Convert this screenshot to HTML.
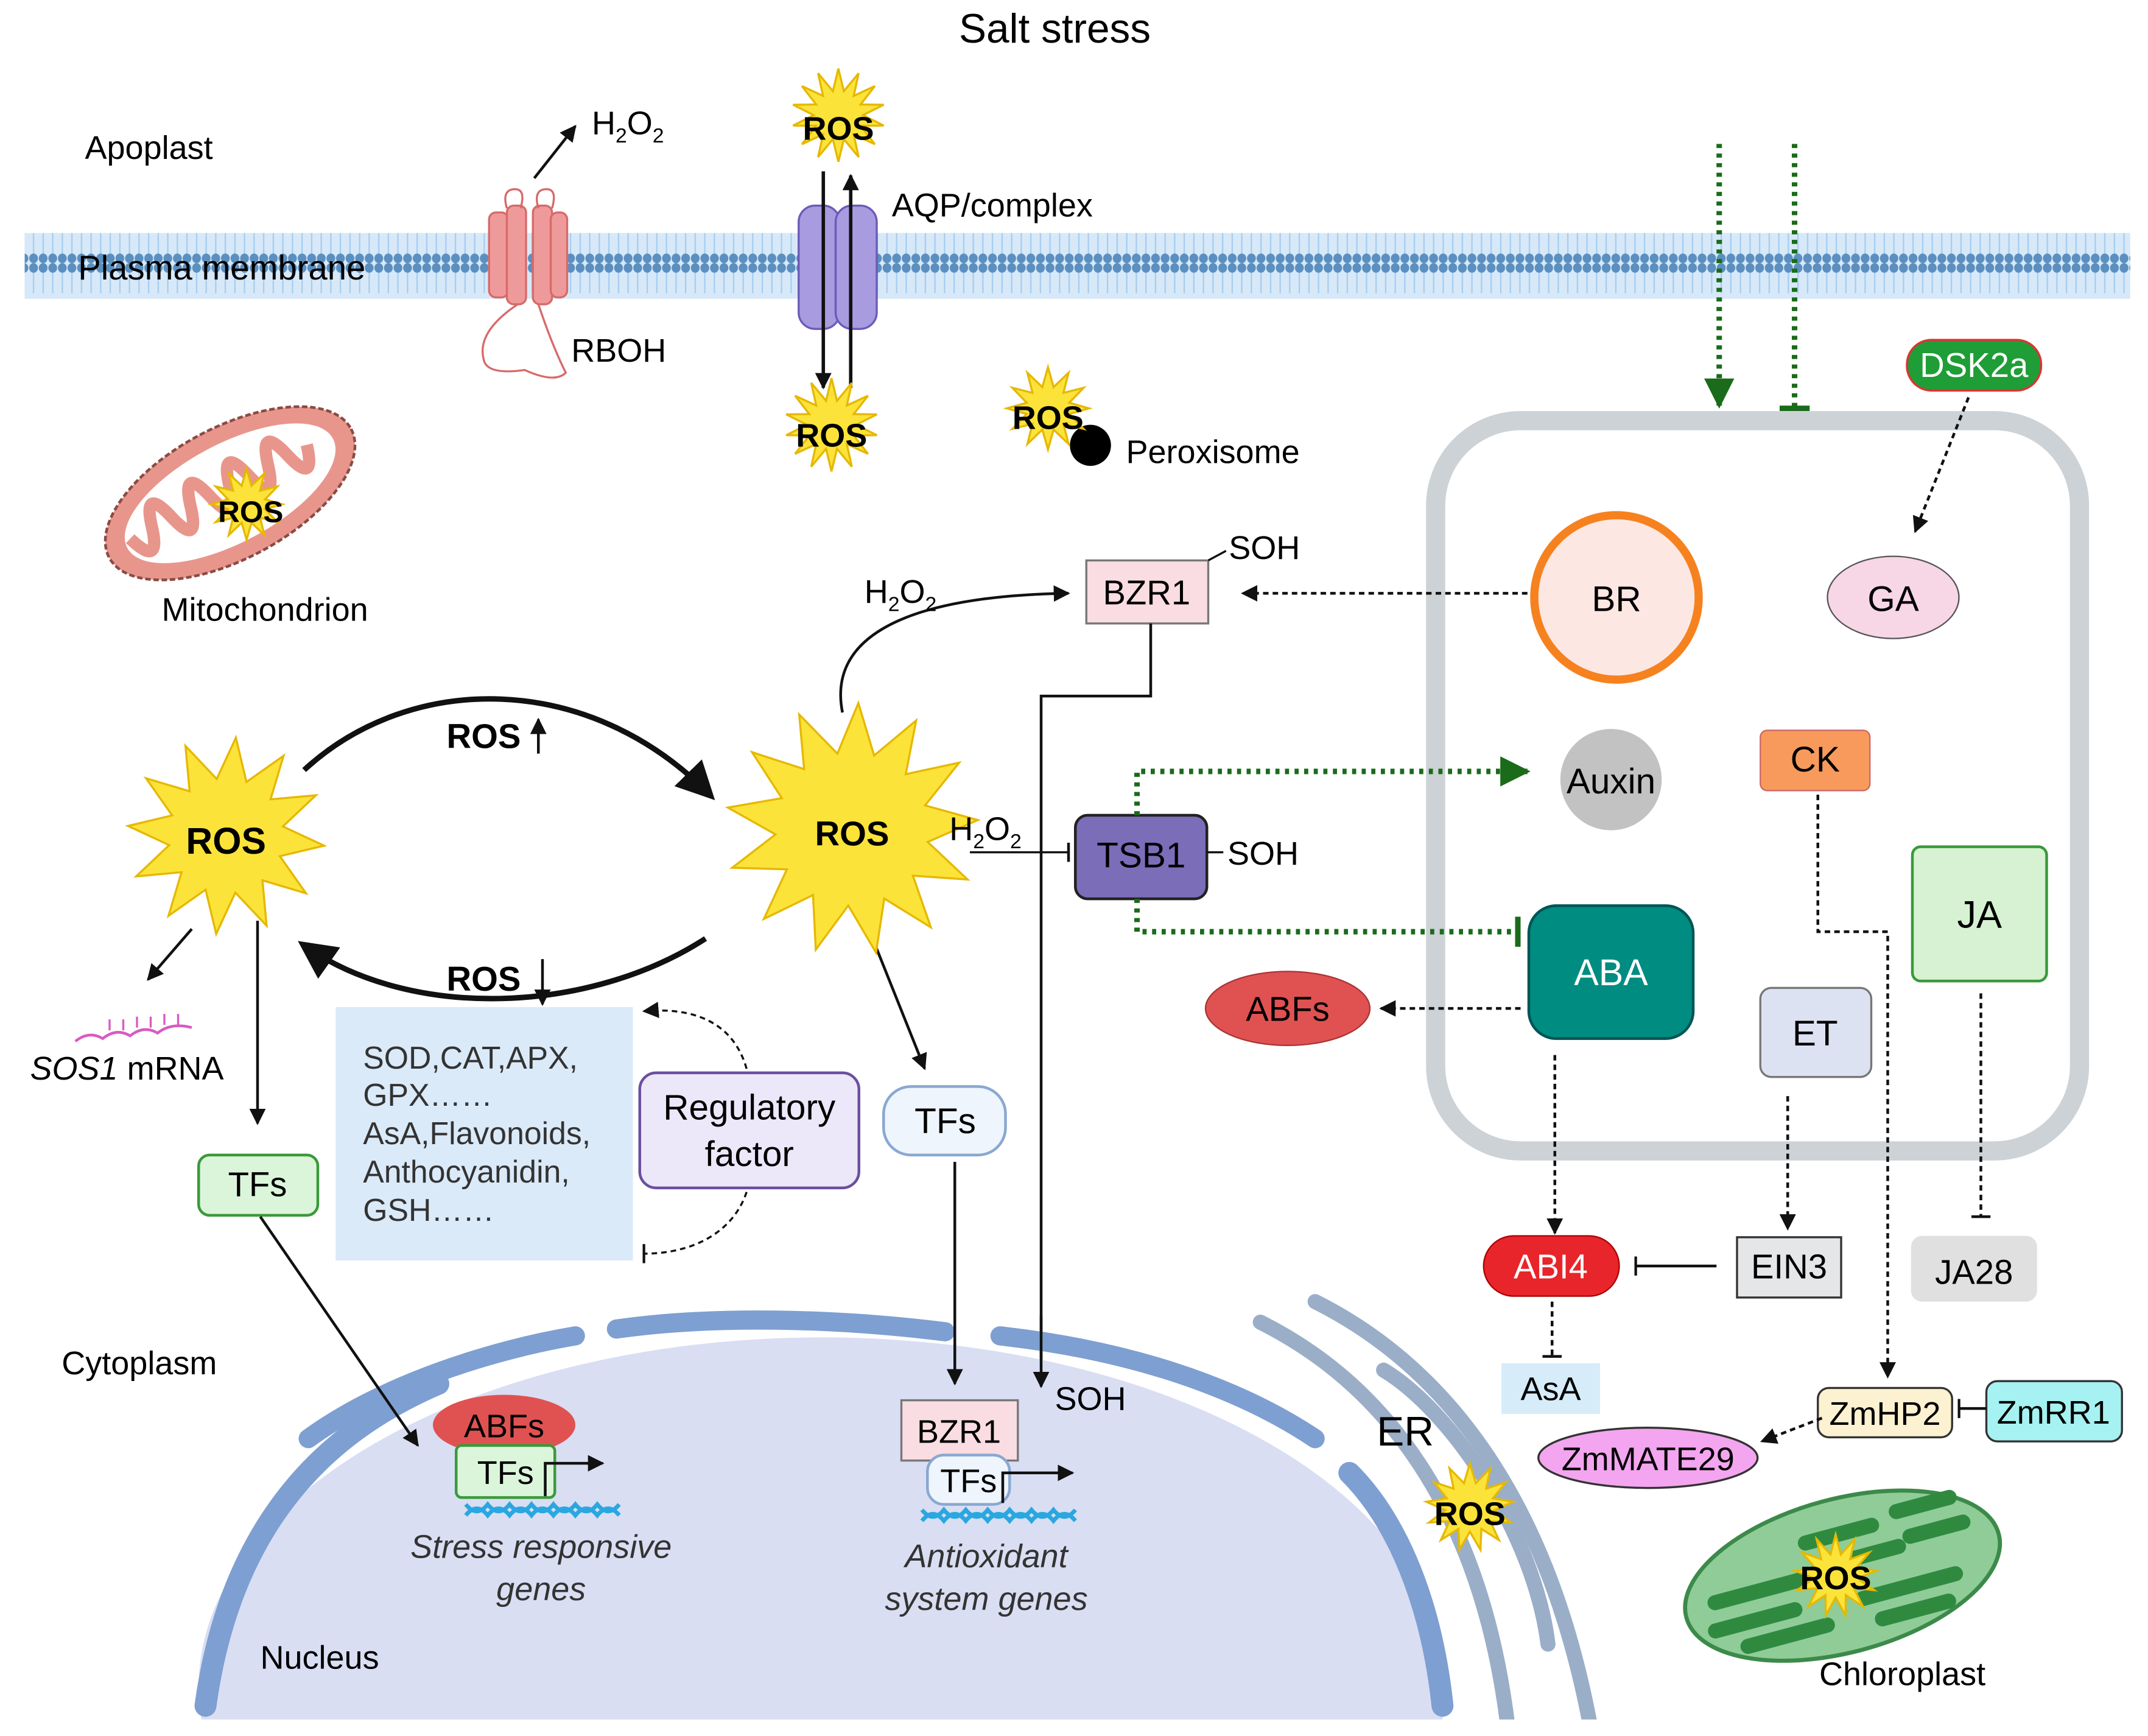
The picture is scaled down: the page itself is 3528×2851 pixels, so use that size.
<!DOCTYPE html>
<html><head><meta charset="utf-8">
<style>
html,body{margin:0;padding:0;background:#fff;width:3528px;height:2851px;overflow:hidden;}
svg{display:block;}
text{font-family:"Liberation Sans",sans-serif;}
</style></head>
<body>
<svg id="s" width="3528" height="2851" viewBox="0 0 1568 1267" xmlns="http://www.w3.org/2000/svg">
<defs>
<marker id="ab" viewBox="0 0 10 10" refX="9" refY="5" markerWidth="12" markerHeight="12" markerUnits="userSpaceOnUse" orient="auto"><path d="M0,0L10,5L0,10z" fill="#111"/></marker>
<marker id="abig" viewBox="0 0 10 10" refX="8" refY="5" markerWidth="28" markerHeight="28" markerUnits="userSpaceOnUse" orient="auto"><path d="M0,0L10,5L0,10z" fill="#111"/></marker>
<marker id="ag" viewBox="0 0 10 10" refX="9" refY="5" markerWidth="22" markerHeight="22" markerUnits="userSpaceOnUse" orient="auto"><path d="M0,0L10,5L0,10z" fill="#1a6b1a"/></marker>
<marker id="bar" viewBox="0 0 4 14" refX="3" refY="7" markerWidth="4" markerHeight="14" markerUnits="userSpaceOnUse" orient="auto"><path d="M3,0V14" stroke="#111" stroke-width="2"/></marker>
<marker id="barg" viewBox="0 0 4 22" refX="2" refY="11" markerWidth="4" markerHeight="22" markerUnits="userSpaceOnUse" orient="auto"><path d="M2,0V22" stroke="#1a6b1a" stroke-width="4"/></marker>
<pattern id="dots" width="7" height="48" patternUnits="userSpaceOnUse">
<rect width="7" height="48" fill="#d7e9f8"/>
<path d="M3.5,4V22M3.5,26V44" stroke="#a6ccef" stroke-width="1"/>
<ellipse cx="3.5" cy="3.5" rx="3.2" ry="3.5" fill="#5b8fc0"/>
<ellipse cx="3.5" cy="44.5" rx="3.2" ry="3.5" fill="#5b8fc0"/>
</pattern>
<clipPath id="nuc"><rect x="0" y="0" width="1568" height="1255"/></clipPath>
</defs>

<text x="770" y="31" font-size="30" text-anchor="middle">Salt stress</text>
<text x="62" y="116" font-size="24">Apoplast</text>
<rect x="18" y="170" width="1537" height="48" fill="url(#dots)"/>
<text x="57" y="204" font-size="25">Plasma membrane</text>

<g fill="#ef9a9a" stroke="#d76a6a" stroke-width="1.5">
<rect x="357" y="155" width="14" height="62" rx="5"/><rect x="370" y="150" width="14" height="72" rx="5"/>
<rect x="389" y="150" width="14" height="72" rx="5"/><rect x="402" y="155" width="12" height="62" rx="5"/>
<path d="M370,152 q-4,-14 6,-14 q8,0 4,14" fill="none"/><path d="M393,152 q-4,-14 6,-14 q8,0 4,14" fill="none"/>
</g>
<path d="M378,222 q-30,20 -25,40 q2,12 30,8 q22,10 30,2 q-10,-20 -20,-50" fill="none" stroke="#d76a6a" stroke-width="1.5"/>
<text x="417" y="264" font-size="24">RBOH</text>
<path d="M390,130L420,92" stroke="#111" stroke-width="2" marker-end="url(#ab)"/>
<text x="432" y="98" font-size="24">H<tspan font-size="15" dy="6">2</tspan><tspan dy="-6">O</tspan><tspan font-size="15" dy="6">2</tspan></text>

<rect x="583" y="150" width="30" height="90" rx="12" fill="#a99be0" stroke="#6b5bb8" stroke-width="1.5"/>
<rect x="610" y="150" width="30" height="90" rx="12" fill="#a99be0" stroke="#6b5bb8" stroke-width="1.5"/>
<path d="M601,125V283" stroke="#111" stroke-width="2.5" marker-end="url(#ab)"/>
<path d="M621,283V128" stroke="#111" stroke-width="2.5" marker-end="url(#ab)"/>
<text x="651" y="158" font-size="24">AQP/complex</text>
<text x="822" y="338" font-size="24">Peroxisome</text>
<circle cx="796" cy="325" r="15" fill="#000"/>

<g transform="translate(168,360) rotate(-28)">
<ellipse rx="100" ry="48" fill="#e8968c" stroke="#8a4b44" stroke-width="2" stroke-dasharray="4,2"/>
<ellipse rx="85" ry="36" fill="#fff"/>
<path d="M-80,-5 q10,30 18,0 q8,-30 16,0 q8,30 16,0 q8,-30 16,0 q8,30 16,0 q8,-30 16,0 q8,30 16,0 q8,-30 16,0 q8,30 16,0" fill="none" stroke="#e8968c" stroke-width="9"/>
</g>
<text x="118" y="453" font-size="24">Mitochondrion</text>

<rect x="1048" y="307" width="470" height="533" rx="62" fill="none" stroke="#ccd2d5" stroke-width="14"/>
<path d="M1255,105V296" stroke="#1a6b1a" stroke-width="4" stroke-dasharray="3,4" marker-end="url(#ag)"/>
<path d="M1310,105V298" stroke="#1a6b1a" stroke-width="4" stroke-dasharray="3,4" marker-end="url(#barg)"/>
<rect x="1392" y="248" width="98" height="37" rx="18" fill="#1f9d36" stroke="#d33" stroke-width="1.5"/>
<text x="1441" y="275" font-size="25" fill="#fff" text-anchor="middle">DSK2a</text>
<path d="M1437,290L1398,388" stroke="#111" stroke-width="2" stroke-dasharray="4,3" marker-end="url(#ab)"/>

<circle cx="1180" cy="436" r="60" fill="#fde7e3" stroke="#f5821f" stroke-width="6"/>
<text x="1180" y="446" font-size="26" text-anchor="middle">BR</text>
<ellipse cx="1382" cy="436" rx="48" ry="30" fill="#f7d6e6" stroke="#555" stroke-width="1"/>
<text x="1382" y="446" font-size="26" text-anchor="middle">GA</text>
<circle cx="1176" cy="569" r="37" fill="#c2c2c2"/>
<text x="1176" y="579" font-size="26" text-anchor="middle">Auxin</text>
<rect x="1285" y="533" width="80" height="44" rx="5" fill="#f79a5c" stroke="#c66" stroke-width="1"/>
<text x="1325" y="563" font-size="26" text-anchor="middle">CK</text>
<rect x="1396" y="618" width="98" height="98" rx="6" fill="#d6f2d2" stroke="#3a9a3a" stroke-width="2"/>
<text x="1445" y="677" font-size="28" text-anchor="middle">JA</text>
<rect x="1116" y="661" width="120" height="97" rx="20" fill="#008c80" stroke="#055" stroke-width="2"/>
<text x="1176" y="719" font-size="27" fill="#fff" text-anchor="middle">ABA</text>
<rect x="1285" y="721" width="81" height="65" rx="8" fill="#dde2f3" stroke="#777" stroke-width="1.5"/>
<text x="1325" y="763" font-size="26" text-anchor="middle">ET</text>
<ellipse cx="940" cy="736" rx="60" ry="27" fill="#e05252" stroke="#a33" stroke-width="1"/>
<text x="940" y="745" font-size="25" text-anchor="middle">ABFs</text>

<rect x="793" y="409" width="89" height="46" fill="#f9dde3" stroke="#777" stroke-width="1.5"/>
<text x="837" y="441" font-size="25" text-anchor="middle">BZR1</text>
<path d="M882,409 L895,402" stroke="#111" stroke-width="1.5"/>
<text x="897" y="408" font-size="24">SOH</text>
<rect x="785" y="595" width="96" height="61" rx="9" fill="#7b6db8" stroke="#222" stroke-width="2"/>
<text x="833" y="633" font-size="26" text-anchor="middle">TSB1</text>
<path d="M881,622H893" stroke="#111" stroke-width="1.5"/>
<text x="896" y="631" font-size="24">SOH</text>
<path d="M615,520 C605,470 650,435 780,433" fill="none" stroke="#111" stroke-width="2" marker-end="url(#ab)"/>
<text x="631" y="440" font-size="24">H<tspan font-size="15" dy="6">2</tspan><tspan dy="-6">O</tspan><tspan font-size="15" dy="6">2</tspan></text>
<path d="M840,455V508H760V1012" fill="none" stroke="#111" stroke-width="2" marker-end="url(#ab)"/>
<path d="M1115,433H907" stroke="#111" stroke-width="2" stroke-dasharray="4,3" marker-end="url(#ab)"/>
<path d="M708,622H780" stroke="#111" stroke-width="1.5" marker-end="url(#bar)"/>

<path d="M830,595V563H1115" fill="none" stroke="#1a6b1a" stroke-width="4" stroke-dasharray="3,4" marker-end="url(#ag)"/>
<path d="M830,656V680H1108" fill="none" stroke="#1a6b1a" stroke-width="4" stroke-dasharray="3,4" marker-end="url(#barg)"/>
<path d="M1110,736H1008" stroke="#111" stroke-width="2" stroke-dasharray="4,3" marker-end="url(#ab)"/>

<path d="M222,562 C300,490 430,490 518,580" fill="none" stroke="#111" stroke-width="4" marker-end="url(#abig)"/>
<path d="M515,685 C430,740 300,745 222,690" fill="none" stroke="#111" stroke-width="4" marker-end="url(#abig)"/>
<text x="326" y="546" font-size="25" font-weight="bold">ROS</text>
<path d="M393,550V525" stroke="#111" stroke-width="2" marker-end="url(#ab)"/>
<text x="326" y="723" font-size="25" font-weight="bold">ROS</text>
<path d="M396,700V733" stroke="#111" stroke-width="2" marker-end="url(#ab)"/>

<rect x="245" y="735" width="217" height="185" fill="#dbeaf9"/>
<g font-size="23" fill="#333"><text x="265" y="780">SOD,CAT,APX,</text><text x="265" y="807">GPX……</text><text x="265" y="835">AsA,Flavonoids,</text><text x="265" y="863">Anthocyanidin,</text><text x="265" y="891">GSH……</text></g>
<rect x="467" y="783" width="160" height="84" rx="12" fill="#ece7f9" stroke="#6b4fa0" stroke-width="2"/>
<text x="547" y="817" font-size="26" text-anchor="middle">Regulatory</text>
<text x="547" y="851" font-size="26" text-anchor="middle">factor</text>
<path d="M545,780 C535,745 505,735 470,738" fill="none" stroke="#111" stroke-width="1.5" stroke-dasharray="4,3" marker-end="url(#ab)"/>
<path d="M545,870 C535,900 505,915 470,915" fill="none" stroke="#111" stroke-width="1.5" stroke-dasharray="4,3" marker-end="url(#bar)"/>

<path d="M140,678L108,715" stroke="#111" stroke-width="2" marker-end="url(#ab)"/>
<path d="M188,672V820" stroke="#111" stroke-width="2" marker-end="url(#ab)"/>
<path d="M55,760 q10,-8 20,-2 q10,-8 20,-2 q10,-8 20,-2 q10,-8 25,-4" fill="none" stroke="#d85ac4" stroke-width="2"/>
<path d="M80,752V744M90,752V744M100,750V742M110,750V742M120,748V740M130,748V740" stroke="#d85ac4" stroke-width="1.5"/>
<text x="22" y="788" font-size="24"><tspan font-style="italic">SOS1</tspan> mRNA</text>
<rect x="145" y="843" width="87" height="44" rx="8" fill="#dbf5db" stroke="#3a9a3a" stroke-width="2"/>
<text x="188" y="873" font-size="25" text-anchor="middle">TFs</text>
<path d="M635,680L675,780" stroke="#111" stroke-width="2" marker-end="url(#ab)"/>
<rect x="645" y="793" width="89" height="50" rx="20" fill="#eef5fd" stroke="#8aa8d0" stroke-width="2"/>
<text x="690" y="827" font-size="26" text-anchor="middle">TFs</text>

<path d="M147,1255 A455,255 0 1 1 1053,1255 Z" fill="#d9def3"/>
<g fill="none" stroke="#7e9fd1" stroke-linecap="round">
<path d="M150,1245 C170,1100 250,1040 320,1010" stroke-width="16"/>
<path d="M225,1050 C280,1010 360,985 420,975" stroke-width="14"/>
<path d="M450,970 C520,960 610,962 690,972" stroke-width="14"/>
<path d="M730,975 C820,985 900,1010 960,1050" stroke-width="14"/>
<path d="M985,1075 C1020,1110 1045,1170 1053,1245" stroke-width="16"/>
</g>
<g clip-path="url(#nuc)" fill="none" stroke="#9aaec8" stroke-width="11" stroke-linecap="round">
<path d="M920,965 C1010,1010 1080,1100 1100,1255"/>
<path d="M960,950 C1060,1000 1130,1100 1160,1255"/>
<path d="M1010,1000 C1060,1030 1120,1120 1130,1200"/>
</g>
<path d="M697,848V1010" stroke="#111" stroke-width="2" marker-end="url(#ab)"/>
<path d="M760,960V1012" stroke="#111" stroke-width="2" marker-end="url(#ab)"/>
<text x="45" y="1003" font-size="24">Cytoplasm</text>
<text x="190" y="1218" font-size="24">Nucleus</text>
<text x="1005" y="1055" font-size="30">ER</text>
<path d="M190,888L305,1055" stroke="#111" stroke-width="2" marker-end="url(#ab)"/>
<ellipse cx="368" cy="1040" rx="52" ry="22" fill="#e05252"/>
<text x="368" y="1049" font-size="24" text-anchor="middle">ABFs</text>
<rect x="333" y="1055" width="72" height="38" rx="4" fill="#dbf5db" stroke="#3a9a3a" stroke-width="2"/>
<text x="369" y="1083" font-size="24" text-anchor="middle">TFs</text>
<path d="M398,1092V1068H440" fill="none" stroke="#111" stroke-width="2" marker-end="url(#ab)"/>
<path d="M340,1098 q8,10 16,0 q8,10 16,0 q8,10 16,0 q8,10 16,0 q8,10 16,0 q8,10 16,0 q8,10 16,0" fill="none" stroke="#2aa7e0" stroke-width="3"/>
<path d="M340,1106 q8,-10 16,0 q8,-10 16,0 q8,-10 16,0 q8,-10 16,0 q8,-10 16,0 q8,-10 16,0 q8,-10 16,0" fill="none" stroke="#2aa7e0" stroke-width="3"/>
<text x="395" y="1137" font-size="24" font-style="italic" fill="#333" text-anchor="middle">Stress responsive</text>
<text x="395" y="1168" font-size="24" font-style="italic" fill="#333" text-anchor="middle">genes</text>
<rect x="658" y="1022" width="85" height="44" fill="#f9dde3" stroke="#777" stroke-width="1.5"/>
<text x="700" y="1053" font-size="24" text-anchor="middle">BZR1</text>
<text x="770" y="1029" font-size="24">SOH</text>
<rect x="677" y="1062" width="60" height="36" rx="12" fill="#eef5fd" stroke="#8aa8d0" stroke-width="2"/>
<text x="707" y="1089" font-size="24" text-anchor="middle">TFs</text>
<path d="M732,1097V1075H783" fill="none" stroke="#111" stroke-width="2" marker-end="url(#ab)"/>
<path d="M673,1102 q8,10 16,0 q8,10 16,0 q8,10 16,0 q8,10 16,0 q8,10 16,0 q8,10 16,0 q8,10 16,0" fill="none" stroke="#2aa7e0" stroke-width="3"/>
<path d="M673,1110 q8,-10 16,0 q8,-10 16,0 q8,-10 16,0 q8,-10 16,0 q8,-10 16,0 q8,-10 16,0 q8,-10 16,0" fill="none" stroke="#2aa7e0" stroke-width="3"/>
<text x="720" y="1144" font-size="24" font-style="italic" fill="#333" text-anchor="middle">Antioxidant</text>
<text x="720" y="1175" font-size="24" font-style="italic" fill="#333" text-anchor="middle">system genes</text>

<path d="M1135,770V900" stroke="#111" stroke-width="2" stroke-dasharray="4,3" marker-end="url(#ab)"/>
<path d="M1305,800V897" stroke="#111" stroke-width="2" stroke-dasharray="4,3" marker-end="url(#ab)"/>
<path d="M1446,725V888" stroke="#111" stroke-width="2" stroke-dasharray="4,3" marker-end="url(#bar)"/>
<path d="M1253,924H1194" stroke="#111" stroke-width="2" marker-end="url(#bar)"/>
<path d="M1133,950V990" stroke="#111" stroke-width="2" stroke-dasharray="4,3" marker-end="url(#bar)"/>
<path d="M1327,580V680H1378V1005" fill="none" stroke="#111" stroke-width="2" stroke-dasharray="4,3" marker-end="url(#ab)"/>
<rect x="1083" y="902" width="99" height="44" rx="22" fill="#e8252a" stroke="#a00" stroke-width="1"/>
<text x="1132" y="933" font-size="25" fill="#fff" text-anchor="middle">ABI4</text>
<rect x="1268" y="903" width="76" height="44" fill="#e4e6e7" stroke="#333" stroke-width="1.5"/>
<text x="1306" y="933" font-size="25" text-anchor="middle">EIN3</text>
<rect x="1395" y="902" width="92" height="48" rx="8" fill="#e0e0e0"/>
<text x="1441" y="937" font-size="25" text-anchor="middle">JA28</text>
<rect x="1096" y="995" width="72" height="37" fill="#d6ecf9"/>
<text x="1132" y="1022" font-size="24" text-anchor="middle">AsA</text>
<rect x="1327" y="1013" width="98" height="36" rx="8" fill="#fcf1d0" stroke="#333" stroke-width="1.5"/>
<text x="1376" y="1040" font-size="24" text-anchor="middle">ZmHP2</text>
<rect x="1450" y="1008" width="99" height="44" rx="8" fill="#a6f1f1" stroke="#333" stroke-width="1.5"/>
<text x="1499" y="1039" font-size="24" text-anchor="middle">ZmRR1</text>
<path d="M1450,1028H1430" stroke="#111" stroke-width="2" marker-end="url(#bar)"/>
<path d="M1330,1035L1286,1052" stroke="#111" stroke-width="2" stroke-dasharray="4,3" marker-end="url(#ab)"/>
<ellipse cx="1203" cy="1064" rx="80" ry="22" fill="#f3a5ef" stroke="#333" stroke-width="1.5"/>
<text x="1203" y="1073" font-size="24" text-anchor="middle">ZmMATE29</text>
<g transform="translate(1345,1150) rotate(-15)">
<ellipse rx="118" ry="56" fill="#8fcc98" stroke="#3c8a4a" stroke-width="3"/>
<g stroke="#2f8a3f" stroke-width="11" stroke-linecap="round">
<path d="M-95,-5H-30M-100,15H-40M-80,32H-20M-20,-30H30M-15,-10H45M10,20H80M20,38H70M50,-35H90M55,-15H95"/>
</g>
</g>
<text x="1328" y="1230" font-size="24">Chloroplast</text>

<g id="stars"></g>
<text x="693" y="613" font-size="24">H<tspan font-size="15" dy="6">2</tspan><tspan dy="-6">O</tspan><tspan font-size="15" dy="6">2</tspan></text>
<g font-weight="bold" text-anchor="middle">
<text x="612" y="102" font-size="24">ROS</text>
<text x="607" y="326" font-size="24">ROS</text>
<text x="765" y="313" font-size="24">ROS</text>
<text x="183" y="381" font-size="22">ROS</text>
<text x="165" y="623" font-size="27">ROS</text>
<text x="622" y="617" font-size="25">ROS</text>
<text x="1073" y="1113" font-size="24">ROS</text>
<text x="1340" y="1160" font-size="24">ROS</text>
</g>
</svg>
<script>
(function(){
var g=document.getElementById('stars');
function star(cx,cy,ro,ri,n,rot){
 var p=[];for(var i=0;i<2*n;i++){var r=i%2?ri:ro;var a=Math.PI*i/n+(rot||0);p.push((cx+r*Math.sin(a)).toFixed(1)+','+(cy-r*Math.cos(a)).toFixed(1));}
 var e=document.createElementNS('http://www.w3.org/2000/svg','polygon');
 e.setAttribute('points',p.join(' '));e.setAttribute('fill','#fbe33a');e.setAttribute('stroke','#e6b800');e.setAttribute('stroke-width','1.5');g.appendChild(e);
}
star(612,84,34,18,14);star(607,310,34,18,14);star(765,298,30,16,12);star(180,368,26,14,12);
star(165,610,72,42,12,0.1);star(622,605,92,56,13,0.05);star(1073,1100,32,18,13);star(1340,1150,30,16,13);
})();
</script>
</body></html>
